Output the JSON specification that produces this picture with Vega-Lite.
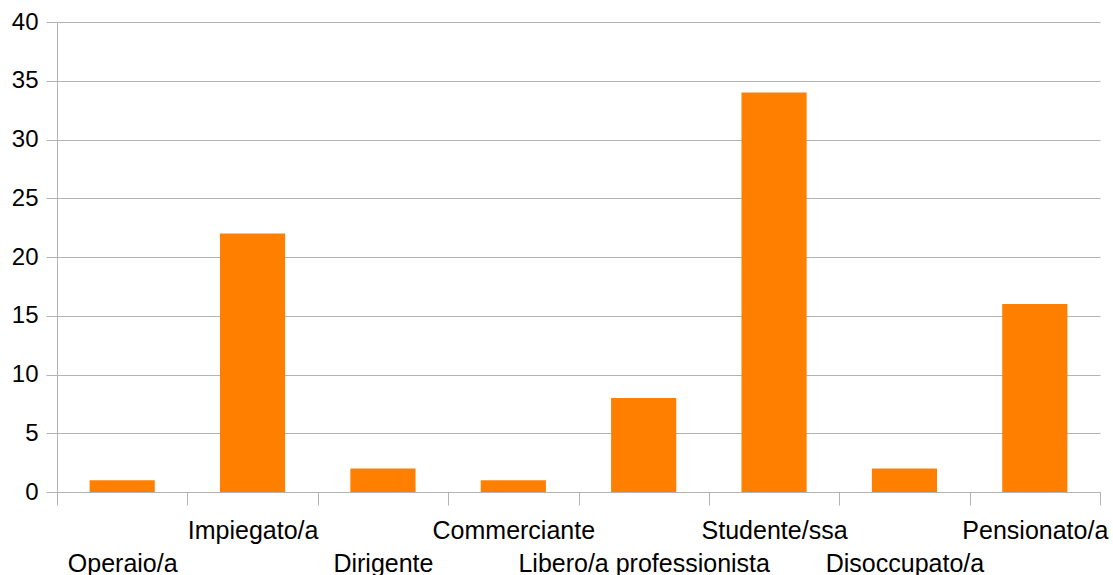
{
  "$schema": "https://vega.github.io/schema/vega-lite/v6.json",
  "width": 1043,
  "height": 470,
  "autosize": {"type": "none"},
  "padding": {"left": 57, "top": 22, "right": 13, "bottom": 83},
  "background": "white",
  "config": {"view": {"stroke": null}, "font": "Liberation Sans"},
  "data": {
    "values": [
      {"category": "Operaio/a", "value": 1},
      {"category": "Impiegato/a", "value": 22},
      {"category": "Dirigente", "value": 2},
      {"category": "Commerciante", "value": 1},
      {"category": "Libero/a professionista", "value": 8},
      {"category": "Studente/ssa", "value": 34},
      {"category": "Disoccupato/a", "value": 2},
      {"category": "Pensionato/a", "value": 16}
    ]
  },
  "mark": {"type": "bar", "color": "#ff8000", "width": {"band": 0.5}},
  "encoding": {
    "x": {
      "field": "category",
      "type": "nominal",
      "sort": null,
      "scale": {"paddingInner": 0, "paddingOuter": 0},
      "axis": {
        "title": null,
        "labelAngle": 0,
        "labelFont": "Liberation Sans",
        "labelFontSize": 25,
        "labelColor": "black",
        "labelOverlap": false,
        "labelBound": false,
        "labelLimit": 500,
        "labelBaseline": "top",
        "tickBand": "extent",
        "tickSize": 13,
        "tickColor": "#b3b3b3",
        "domainColor": "#b3b3b3",
        "labelPadding": {
          "condition": {
            "test": "indexof(['Operaio/a','Dirigente','Libero/a professionista','Disoccupato/a'], datum.value) >= 0",
            "value": 46
          },
          "value": 13
        }
      }
    },
    "y": {
      "field": "value",
      "type": "quantitative",
      "scale": {"domain": [0, 40], "nice": false},
      "axis": {
        "title": null,
        "values": [0, 5, 10, 15, 20, 25, 30, 35, 40],
        "tickSize": 11,
        "labelPadding": 8,
        "labelFont": "Liberation Sans",
        "labelFontSize": 24,
        "labelColor": "black",
        "gridColor": "#b3b3b3",
        "domainColor": "#b3b3b3",
        "tickColor": "#b3b3b3"
      }
    }
  }
}
